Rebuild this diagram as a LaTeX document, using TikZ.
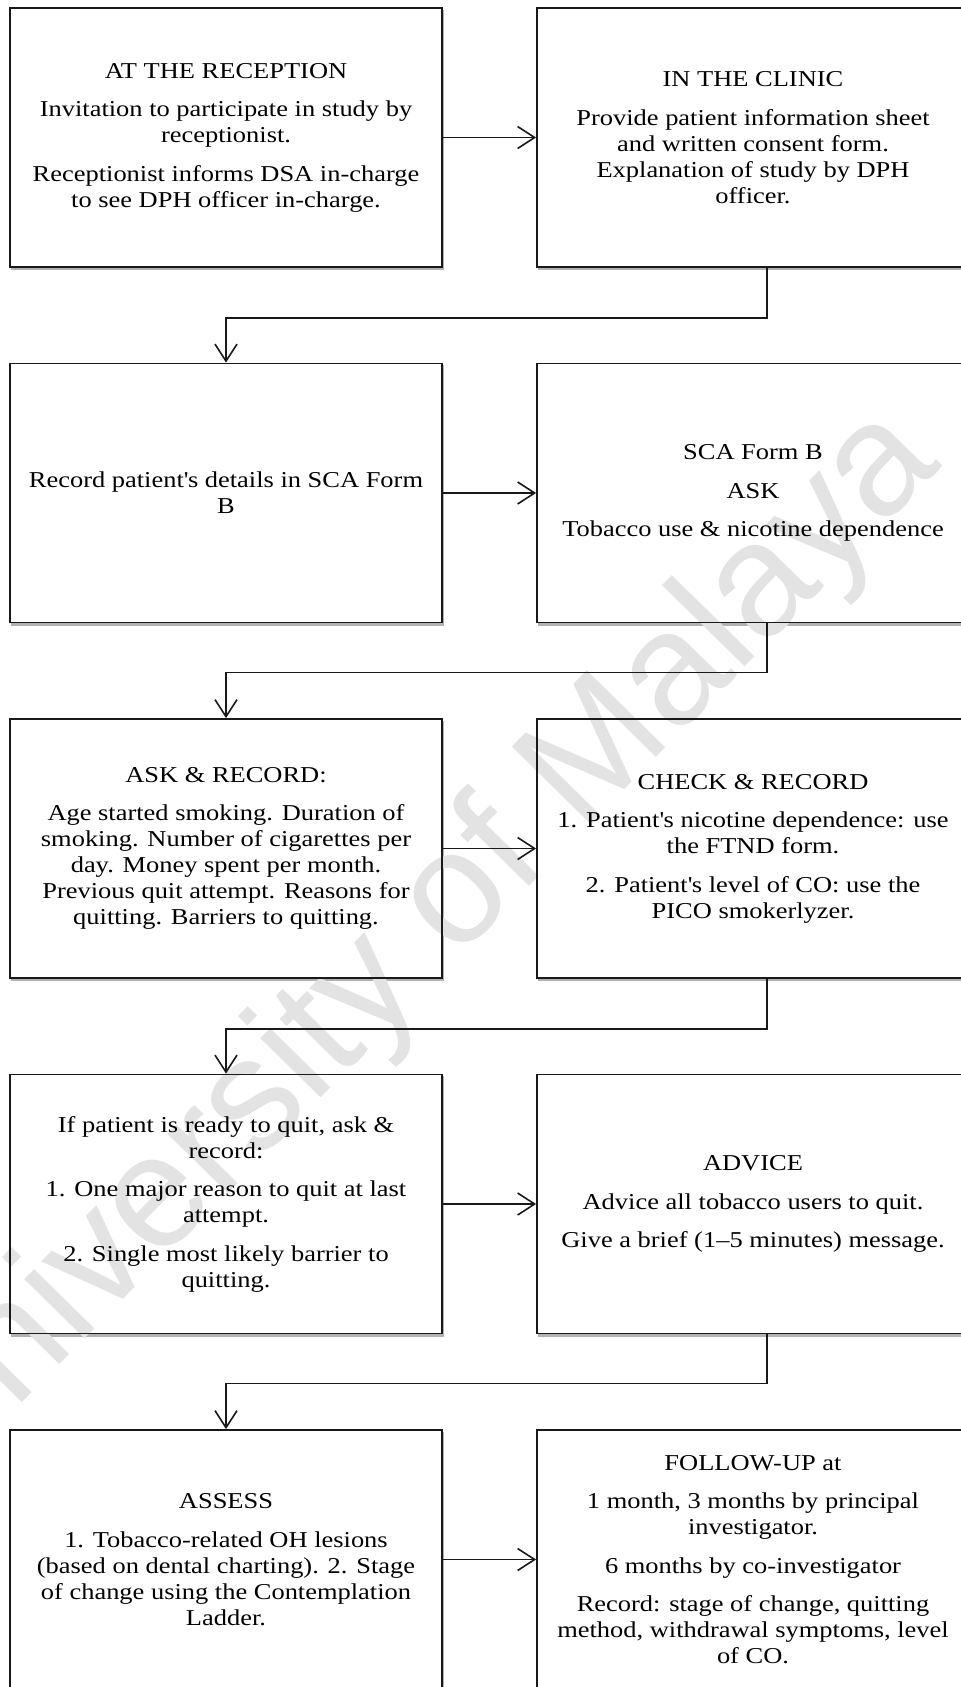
\documentclass[tikz,border=0pt]{standalone}
\usepackage{fontspec}
\setmainfont{Liberation Serif}[FakeStretch=1.165]
\newfontfamily\wmfont{Liberation Sans}
\usetikzlibrary{arrows.meta,shadows}
\pgfdeclarelayer{boxbg}
\pgfdeclarelayer{mark}
\pgfsetlayers{boxbg,mark,main}
\newcommand{\pgap}{\\[12.5pt]}
\newcommand{\apos}{\textquotesingle}
\begin{document}
\begin{tikzpicture}[x=1pt,y=-1pt,
  stepbox/.style={draw=black!90, line width=1.8pt, minimum width=432pt,
    minimum height=259pt, inner sep=0pt, align=center,
    font=\fontsize{22.7}{26}\selectfont},
  conn/.style={line width=1.6pt, draw=black!90,
    -{Straight Barb[length=17pt,width=22pt,line width=1.6pt]}},
  boxshadow/.style={fill=white, drop shadow={shadow xshift=1.5pt,
    shadow yshift=-2.5pt, opacity=0.3, fill=black}},
  watermark/.style={text=black!11, font=\wmfont\fontsize{160}{160}\selectfont}
]
\useasboundingbox (0,0) rectangle (961,1687);
\clip (0,0) rectangle (961,1687);

% row 1
\node[stepbox] (b1) at (226,137.5) {AT THE RECEPTION\pgap
  Invitation to participate in study by\\ receptionist.\pgap
  Receptionist informs DSA in-charge\\ to see DPH officer in-charge.};
\node[stepbox] (b2) at (753,137.5) {IN THE CLINIC\pgap
  Provide patient information sheet\\ and written consent form.\\
  Explanation of study by DPH\\ officer.};
% row 2
\node[stepbox] (b3) at (226,493) {Record patient\apos s details in SCA Form\\ B};
\node[stepbox] (b4) at (753,493) {SCA Form B\pgap ASK\pgap
  Tobacco use \& nicotine dependence};
% row 3
\node[stepbox] (b5) at (226,848.5) {ASK \& RECORD:\pgap
  Age started smoking. Duration of\\ smoking. Number of cigarettes per\\
  day. Money spent per month.\\ Previous quit attempt. Reasons for\\
  quitting. Barriers to quitting.};
\node[stepbox] (b6) at (753,848.5) {CHECK \& RECORD\pgap
  1. Patient\apos s nicotine dependence: use\\ the FTND form.\pgap
  2. Patient\apos s level of CO: use the\\ PICO smokerlyzer.};
% row 4
\node[stepbox] (b7) at (226,1204) {If patient is ready to quit, ask \&\\ record:\pgap
  1. One major reason to quit at last\\ attempt.\pgap
  2. Single most likely barrier to\\ quitting.};
\node[stepbox] (b8) at (753,1204) {ADVICE\pgap
  Advice all tobacco users to quit.\pgap
  Give a brief (1--5 minutes) message.};
% row 5
\node[stepbox] (b9) at (226,1559.5) {ASSESS\pgap
  1. Tobacco-related OH lesions\\ (based on dental charting). 2. Stage\\
  of change using the Contemplation\\ Ladder.};
\node[stepbox] (b10) at (753,1559.5) {FOLLOW-UP at\pgap
  1 month, 3 months by principal\\ investigator.\pgap
  6 months by co-investigator\pgap
  Record: stage of change, quitting\\ method, withdrawal symptoms, level\\ of CO.};

% white box faces with a soft drop shadow
\begin{pgfonlayer}{boxbg}
  \foreach \b in {b1,b2,b3,b4,b5,b6,b7,b8,b9,b10}
    \path[boxshadow] (\b.north west) rectangle (\b.south east);
\end{pgfonlayer}

% watermark behind borders and text
\begin{pgfonlayer}{mark}
  \node[watermark, rotate=45.5] (wm) at (409,950) {University of Malaya};
\end{pgfonlayer}

% left to right within each row
\draw[conn] (b1.east) -- (b2.west);
\draw[conn] (b3.east) -- (b4.west);
\draw[conn] (b5.east) -- (b6.west);
\draw[conn] (b7.east) -- (b8.west);
\draw[conn] (b9.east) -- (b10.west);

% from the right box down to the next row
\draw[conn] ([xshift=14pt]b2.south) -- ++(0,50) -| (b3.north);
\draw[conn] ([xshift=14pt]b4.south) -- ++(0,49) -| (b5.north);
\draw[conn] ([xshift=14pt]b6.south) -- ++(0,50) -| (b7.north);
\draw[conn] ([xshift=14pt]b8.south) -- ++(0,49) -| (b9.north);
\end{tikzpicture}
\end{document}
